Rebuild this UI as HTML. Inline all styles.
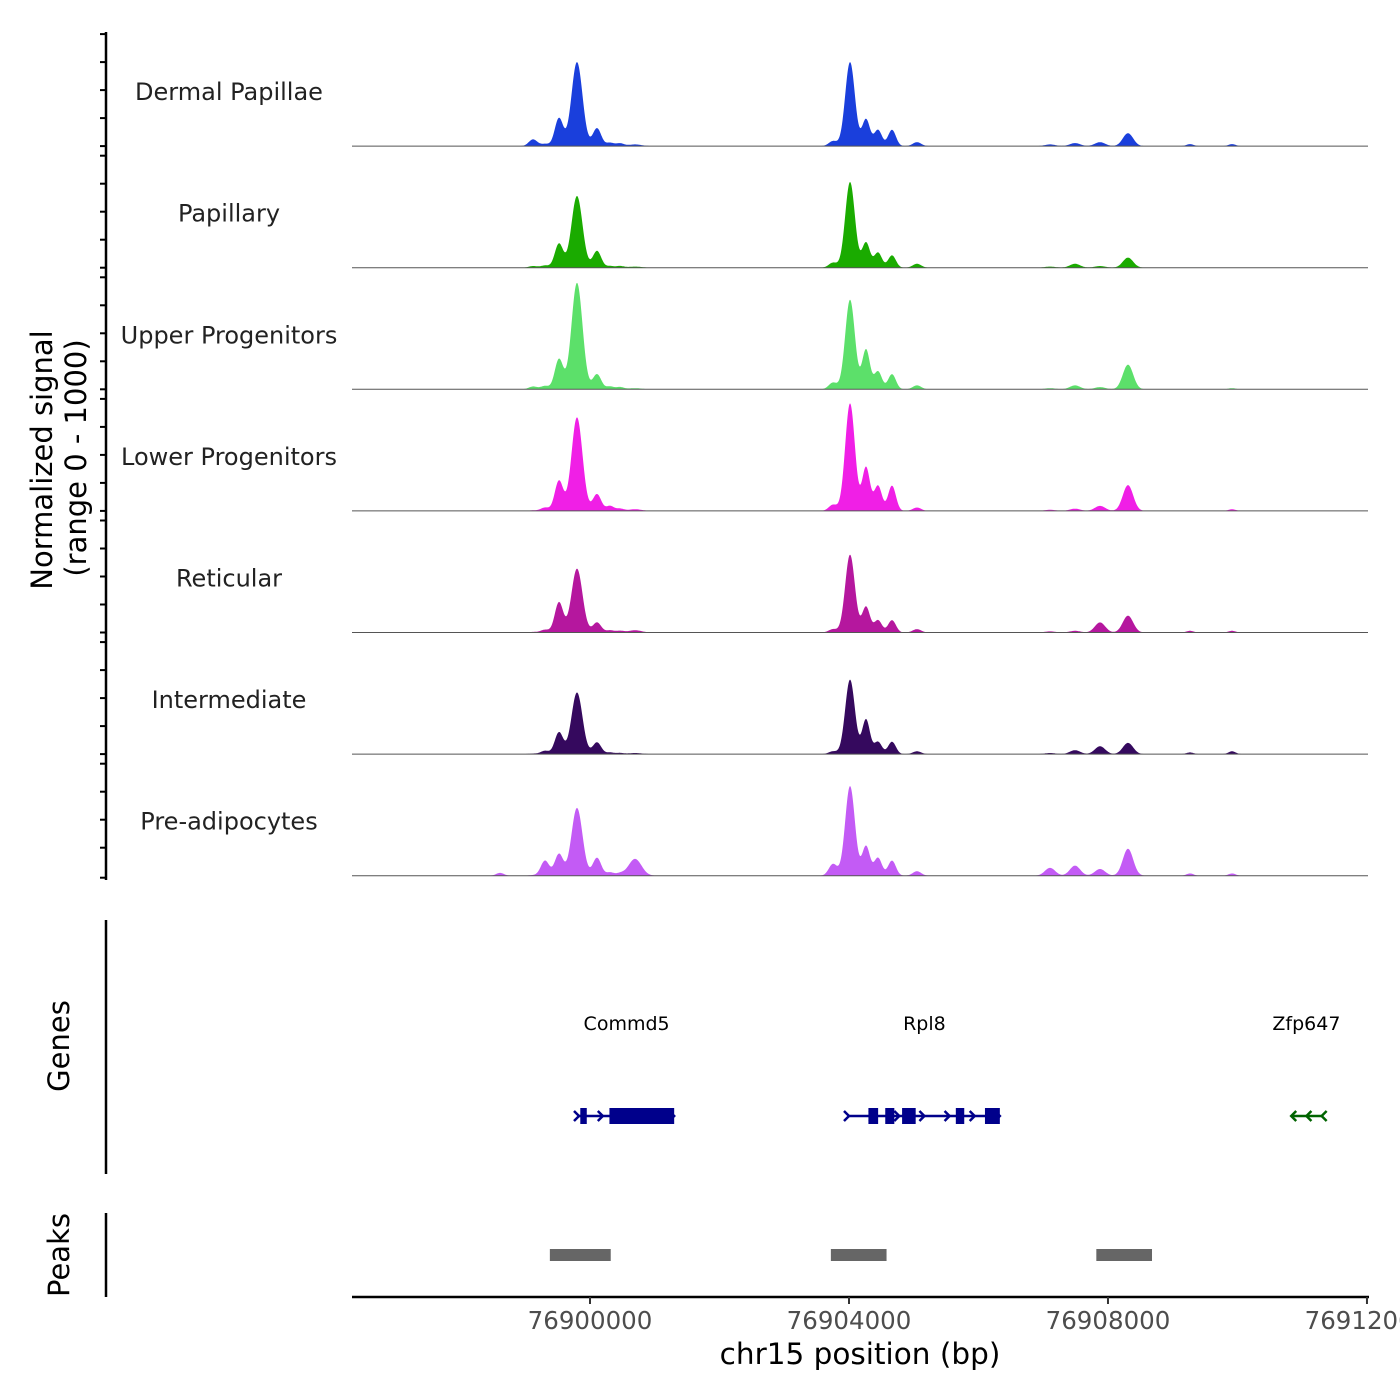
<!DOCTYPE html>
<html><head><meta charset="utf-8"><style>
html,body{margin:0;padding:0;background:#fff;}
svg{display:block;font-family:"DejaVu Sans","Liberation Sans",sans-serif;}
</style></head><body>
<svg id="chart" width="1400" height="1400" viewBox="0 0 1400 1400"></svg>
<script>
// ---- data ----
const trackNames = ["Dermal Papillae","Papillary","Upper Progenitors","Lower Progenitors","Reticular","Intermediate","Pre-adipocytes"];
const trackColors = ["#1a3fdc","#1aab00","#5ce06a","#f01fe6","#b5179e","#35095e","#c35bf5"];
// peak centers (bp)
const peakPos = [76898610,76899120,76899305,76899521,76899799,76900108,76900309,76900463,76900695,76903753,76904016,76904263,76904448,76904664,76905050,76907105,76907491,76907877,76908309,76909267,76909916];
const peakWidth = [60,65,65,65,85,65,60,60,100,65,75,60,60,60,65,80,80,80,80,55,55];
// peak heights per track (signal units 0-1000)
const dermal   = [0,  60, 20,250,750,160, 30, 25, 15, 45,750,240,145,145, 35, 15, 27, 35,115, 18, 18];
const papillary= [0,  15, 20,215,640,150, 15, 15, 10, 45,765,225,135,110, 35, 10, 35, 15, 90,  0,  0];
const upper    = [0,  25, 30,270,950,135, 25, 20, 10, 60,800,355,160,135, 35, 10, 35, 20,220,  0, 10];
const lower    = [0,   5, 30,270,835,150, 45, 20, 15, 55,960,390,225,225, 30, 10, 20, 45,230,  0, 15];
const reticular= [0,   5, 25,270,570, 90, 20, 15, 20, 30,695,230,110,110, 30, 10, 15, 90,150, 15, 15];
const intermed = [0,   5, 30,195,550,105, 15, 10, 10, 25,665,310,110,110, 25, 10, 35, 70,100, 15, 25];
const preadip  = [25,  5,135,195,605,160, 30, 20,150,105,800,265,160,135, 40, 70, 90, 60,240, 20, 20];
const trackValues = [dermal,papillary,upper,lower,reticular,intermed,preadip];
const geneNames = ["Commd5","Rpl8","Zfp647"];
const geneStarts = [76899830,76904000,76910830];
const geneEnds = [76901300,76906330,76911300];
const geneStrand = [1,1,-1];
const exonStarts = [76899850,76900300,76904300,76904560,76904820,76905650,76906100];
const exonEnds   = [76899950,76901300,76904450,76904700,76905030,76905780,76906330];
const peakStarts = [76899380,76903720,76907820];
const peakEnds   = [76900320,76904580,76908680];
const xTicks = [76900000,76904000,76908000,76912000];
const xTickLabels = ["76900000","76904000","76908000","76912000"];

// ---- scales ----
const X0=352,X1=1368,BP0=76896324,BP1=76912016;
const x = bp => X0+(bp-BP0)/(BP1-BP0)*(X1-X0);
const trackTop=24.5, trackH=121.6, ySpan=112;
const svg=document.getElementById('chart');
const NS="http://www.w3.org/2000/svg";
function mk(tag,attrs,parent){const e=document.createElementNS(NS,tag);for(const k in attrs)e.setAttribute(k,attrs[k]);(parent||svg).appendChild(e);return e;}

let e;
e=mk('line',{x1:106,y1:32,x2:106,y2:880,stroke:'#000','stroke-width':2.5});


for(let t=0;t<7;t++){
  const base=trackTop+trackH*(t+1);
  for(let k=0;k<5;k++){
    const yy=base-k*28+ (t===6&&k===0?2:0);
    e=mk('line',{x1:100,y1:yy,x2:106,y2:yy,stroke:'#000','stroke-width':2});
    
    
  }
}
e=mk('text',{x:0,y:0,'font-size':29,'text-anchor':'middle',transform:'translate(52,460) rotate(-90)'});
e.textContent='Normalized signal';


e=mk('text',{x:0,y:0,'font-size':29,'text-anchor':'middle',transform:'translate(86,458) rotate(-90)'});
e.textContent='(range 0 - 1000)';



for(let t=0;t<7;t++){
  const base=trackTop+trackH*(t+1);
  const vals=trackValues[t];
  let d='M'+X0+','+base;
  for(let px=X0;px<=X1;px+=0.5){
    const bp=BP0+(px-X0)/(X1-X0)*(BP1-BP0);
    let v=0;
    for(let i=0;i<peakPos.length;i++){const z=(bp-peakPos[i])/peakWidth[i];v+=vals[i]*Math.exp(-0.5*z*z);}
    d+=' L'+px+','+(base-Math.min(v,1000)/1000*ySpan).toFixed(1);
  }
  d+=' L'+X1+','+base+' Z';
  e=mk('path',{d:d,fill:trackColors[t]});
  
  
  e=mk('line',{x1:X0,y1:base,x2:X1,y2:base,stroke:'#555','stroke-width':1});
  
  
  e=mk('text',{x:229,y:base-46,'font-size':24,'text-anchor':'middle',fill:'#222'});
  e.textContent=trackNames[t];
  
  
}

e=mk('line',{x1:106,y1:920,x2:106,y2:1174,stroke:'#000','stroke-width':2.5});


e=mk('text',{x:0,y:0,'font-size':29,'text-anchor':'middle',transform:'translate(69,1046) rotate(-90)'});
e.textContent='Genes';


const gy=1116;
for(let g=0;g<geneNames.length;g++){
  const col=geneStrand[g]>0?'#00008b':'#006400';
  const xs=x(geneStarts[g]),xe=x(geneEnds[g]);
  e=mk('line',{x1:xs,y1:gy,x2:xe,y2:gy,stroke:col,'stroke-width':2.5});
  
  
  const n=Math.max(2,Math.round((xe-xs)/25));
  for(let k=0;k<=n;k++){
    const ax=xs+(xe-xs)*k/n;const s=geneStrand[g];
    e=mk('polyline',{points:(ax-5*s)+','+(gy-5)+' '+ax+','+gy+' '+(ax-5*s)+','+(gy+5),fill:'none',stroke:col,'stroke-width':2.5});
    
    
  }
  e=mk('text',{x:(xs+xe)/2,y:1030,'font-size':19,'text-anchor':'middle',fill:'#000'});
  e.textContent=geneNames[g];
  
  
}
for(let i=0;i<exonStarts.length;i++){
  e=mk('rect',{x:x(exonStarts[i]),y:gy-8,width:x(exonEnds[i])-x(exonStarts[i]),height:16,fill:'#00008b'});
  
  
}

e=mk('line',{x1:106,y1:1213,x2:106,y2:1297,stroke:'#000','stroke-width':2.5});


e=mk('text',{x:0,y:0,'font-size':29,'text-anchor':'middle',transform:'translate(69,1255) rotate(-90)'});
e.textContent='Peaks';


for(let i=0;i<peakStarts.length;i++){
  e=mk('rect',{x:x(peakStarts[i]),y:1249,width:x(peakEnds[i])-x(peakStarts[i]),height:12,fill:'#666'});
  
  
}

e=mk('line',{x1:X0,y1:1297,x2:X1+1,y2:1297,stroke:'#000','stroke-width':2.5});


for(let i=0;i<xTicks.length;i++){
  const tx=x(xTicks[i]);
  e=mk('line',{x1:tx,y1:1297,x2:tx,y2:1304,stroke:'#333','stroke-width':2});
  
  
  e=mk('text',{x:tx,y:1329,'font-size':24.5,'text-anchor':'middle',fill:'#4d4d4d'});
  e.textContent=xTickLabels[i];
  
  
}
e=mk('text',{x:860,y:1364,'font-size':29.5,'text-anchor':'middle',fill:'#000'});
e.textContent='chr15 position (bp)';


</script>
</body></html>
